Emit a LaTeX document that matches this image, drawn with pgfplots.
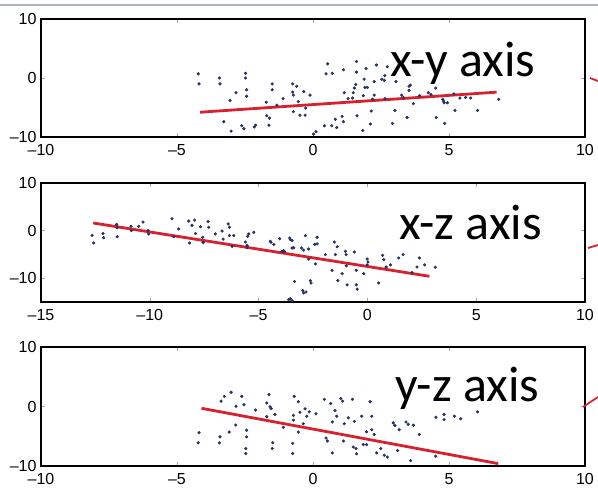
\documentclass[border=0pt]{standalone}
\usepackage{fontspec}
\setmainfont{Liberation Sans}
\newfontfamily\calibri{Carlito}
\usepackage{pgfplots}
\pgfplotsset{compat=1.18}
\usepackage{pgfplotstable}
\definecolor{dotblue}{HTML}{25345F}
\definecolor{fitred}{HTML}{D8202E}
\definecolor{topgray}{HTML}{A9B2BE}

\pgfplotstableread{
x y
-4.22 0.7
-4.19 -1.0
-3.44 0.0
-3.42 -1.0
-2.48 0.8
-2.48 0.0
-2.44 -2.0
-2.44 -3.1
-2.83 -2.5
-3.05 -3.8
-3.28 -7.4
-3.01 -9.0
-2.62 -8.1
-2.54 -8.6
-2.16 -8.3
-2.11 -8.0
-1.50 -1.0
-1.50 -2.0
-1.72 -4.1
-1.70 -6.4
-1.60 -6.8
-1.62 -8.0
-1.33 -4.6
-1.10 -3.5
-0.75 -1.0
-0.60 -1.4
-0.75 -2.4
-0.72 -2.9
-0.54 -4.0
-0.72 -5.7
-0.48 -6.3
-0.29 -6.3
-0.27 -5.1
-0.34 -2.3
-0.11 -2.9
0.11 -9.1
0.02 -9.5
0.54 2.4
0.48 0.7
0.71 0.8
1.12 1.4
1.15 -2.5
1.29 -3.5
0.42 -8.1
0.69 -8.1
0.87 -8.4
0.82 -7.0
1.07 -6.5
1.12 -7.4
1.60 2.8
1.60 1.0
1.95 1.6
2.33 2.2
2.73 1.9
1.88 -0.2
1.57 -1.1
1.52 -1.7
1.91 -1.6
2.00 -1.6
2.25 -0.6
2.53 -0.2
2.62 -0.4
2.64 0.4
3.05 -0.6
3.53 -1.4
3.58 -1.2
3.53 -2.1
1.48 -2.5
1.45 -3.4
1.85 -3.0
2.25 -2.9
2.19 -3.6
2.65 -3.5
3.26 -2.9
3.32 -3.3
3.92 -3.0
4.24 -2.5
4.34 -2.8
4.51 -1.7
3.69 -4.35
4.77 -3.6
4.82 -4.2
4.94 -4.2
4.80 -3.9
5.18 -2.7
5.40 -3.4
5.61 -3.3
5.80 -3.4
6.83 -3.6
1.62 -6.4
2.14 -5.6
3.01 -5.5
3.46 -6.7
2.11 -7.8
2.92 -7.7
1.83 -8.9
4.53 -6.7
4.84 -7.7
5.22 -5.5
6.05 -5.5
}\dataxy

\pgfplotstableread{
x y
-12.65 -1.0
-12.58 -2.6
-12.15 -0.6
-12.12 -1.5
-11.52 1.3
-11.50 0.6
-11.50 -1.3
-10.86 0.9
-10.85 0.0
-10.51 0.9
-10.31 1.8
-10.08 0.0
-10.05 -0.7
-8.98 2.5
-8.67 0.35
-8.90 -1.3
-8.21 2.0
-7.94 2.2
-8.06 1.1
-7.67 0.8
-7.32 1.9
-7.29 0.7
-7.90 -0.6
-7.57 -1.4
-8.17 -2.6
-7.55 -2.5
-6.99 -0.7
-6.68 -0.1
-6.63 -1.8
-6.40 1.4
-6.34 0.7
-6.34 -1.05
-6.14 -1.05
-6.22 -3.3
-5.61 -2.4
-5.50 -1.2
-5.45 -0.7
-5.22 -0.35
-5.53 -3.6
-5.53 -3.1
-4.46 -2.25
-4.43 -2.45
-4.30 -2.9
-4.03 -1.7
-3.57 -1.55
-3.46 -2.1
-3.92 -4.4
-3.81 -4.4
-3.46 -3.65
-3.86 -4.2
-3.54 -1.9
-3.39 -3.6
-2.85 -1.05
-2.31 -1.4
-3.03 -3.65
-2.93 -4.1
-2.70 -3.86
-2.42 -2.9
-2.31 -2.8
-2.70 -6.0
-2.39 -7.0
-1.93 -5.05
-1.52 -2.4
-1.39 -3.4
-1.47 -5.05
-1.01 -4.35
-0.98 -5.05
-0.60 -4.5
-0.97 -7.4
-1.62 -8.35
-1.16 -9.05
-1.36 -10.5
-0.93 -11.4
-0.51 -8.35
-0.51 -11.4
-0.47 -12.3
-0.17 -9.05
-0.01 -5.97
0.03 -6.6
-0.01 -7.2
0.52 -11.0
0.70 -5.2
0.75 -6.1
0.86 -7.65
1.06 -7.2
1.44 -5.75
1.64 -5.05
2.05 -8.8
2.28 -7.65
2.39 -5.75
2.63 -7.2
3.12 -7.7
-3.35 -10.7
-2.97 -12.6
-2.82 -12.9
-2.93 -13.1
-2.62 -10.5
-2.59 -11.0
-3.62 -14.5
-3.46 -14.7
-3.54 -14.3
}\dataxz

\pgfplotstableread{
x y
-4.22 -6.1
-4.19 -4.4
-3.44 -6.1
-3.42 -5.1
-3.38 0.9
-3.26 1.7
-3.01 2.4
-2.62 1.7
-2.83 0.05
-2.54 0.3
-3.08 -4.3
-2.84 -3.1
-2.44 -4.0
-2.44 -5.1
-2.47 -7.06
-2.47 -7.9
-2.11 -0.6
-1.62 2.0
-1.70 0.6
-1.58 -0.05
-1.54 -0.34
-1.70 -1.7
-1.40 -1.34
-1.48 -6.1
-1.50 -7.06
-1.09 -3.5
-0.69 1.7
-0.54 0.8
-0.72 -1.5
-0.72 -2.3
-0.48 -0.96
-0.29 -0.39
-0.23 -1.63
-0.14 -0.9
0.11 -1.23
-0.36 -2.9
-0.54 -4.3
-0.75 -6.2
-0.75 -7.9
0.42 1.2
0.65 0.5
1.02 1.35
1.09 0.9
1.45 1.2
0.81 -0.67
0.87 -1.63
1.30 -1.9
0.71 -2.6
1.15 -2.9
1.52 -2.5
0.48 -5.3
0.53 -5.8
1.12 -5.8
1.48 -6.8
1.58 -7.06
1.60 -7.95
0.71 -7.8
1.85 -6.4
1.79 -1.63
2.10 0.8
2.16 -1.63
2.16 -3.9
2.25 -4.7
1.97 -4.25
1.97 -6.4
2.49 -7.06
2.34 -7.8
2.62 -8.2
2.73 -8.5
2.95 -2.75
3.01 -3.2
3.17 -3.9
3.42 -2.6
3.50 -3.0
3.69 -3.15
3.91 -4.7
3.11 -7.4
3.59 -9.1
4.51 -8.35
4.52 -1.8
4.82 -1.34
4.82 -2.2
5.20 -1.63
5.43 -2.07
6.05 -0.9
}\datayz

\newcommand\tl[1]{\mbox{\fontsize{16}{16}\selectfont #1}}

\pgfplotsset{
  panel/.style={
    scale only axis, width=544pt,
    axis line style={line width=2.4pt, black},
    tick align=inside, major tick length=4pt,
    tick style={gray!70, line width=0.6pt},
    xticklabel style={yshift=-4pt},
    yticklabel style={xshift=-1pt},
    clip=false,
  },
  dots/.style={only marks, mark=*, mark size=1.4pt, color=dotblue},
  fit/.style={fitred, line width=2.8pt, no marks},
}

\begin{document}
\begin{tikzpicture}[x=1pt,y=1pt]
\useasboundingbox (0,0) rectangle (598,490);
\draw[topgray, line width=2pt] (0,485) -- (598,485);

\begin{axis}[panel, at={(41pt,353pt)}, anchor=south west, height=118pt,
  xmin=-10, xmax=10, ymin=-10, ymax=10,
  xtick={-10,-5,0,5,10}, xticklabels={\tl{\textendash10},\tl{\textendash5},\tl{0},\tl{5},\tl{10}},
  ytick={-10,0,10}, yticklabels={\tl{\textendash10},\tl{0},\tl{10}}]
\addplot[dots] table[x=x,y=y] {\dataxy};
\addplot[fit] coordinates {(-4.15,-5.8) (6.75,-2.4)};
\end{axis}

\begin{axis}[panel, at={(41pt,188pt)}, anchor=south west, height=119pt,
  xmin=-15, xmax=10, ymin=-15, ymax=10,
  xtick={-15,-10,-5,0,5,10}, xticklabels={\tl{\textendash15},\tl{\textendash10},\tl{\textendash5},\tl{0},\tl{5},\tl{10}},
  ytick={-10,0,10}, yticklabels={\tl{\textendash10},\tl{0},\tl{10}}]
\addplot[dots] table[x=x,y=y] {\dataxz};
\addplot[fit] coordinates {(-12.6,1.6) (2.85,-9.6)};
\end{axis}

\begin{axis}[panel, at={(41pt,24pt)}, anchor=south west, height=119pt,
  xmin=-10, xmax=10, ymin=-10, ymax=10,
  xtick={-10,-5,0,5,10}, xticklabels={\tl{\textendash10},\tl{\textendash5},\tl{0},\tl{5},\tl{10}},
  ytick={-10,0,10}, yticklabels={\tl{\textendash10},\tl{0},\tl{10}}]
\addplot[dots] table[x=x,y=y] {\datayz};
\addplot[fit] coordinates {(-4.1,-0.3) (6.81,-9.6)};
\end{axis}

\node[anchor=base west, inner sep=0pt, font=\calibri\fontsize{50}{50}\selectfont] at (390,413) {x-y axis};
\node[anchor=base west, inner sep=0pt, font=\calibri\fontsize{50}{50}\selectfont] at (399,250) {x-z axis};
\node[anchor=base west, inner sep=0pt, font=\calibri\fontsize{50}{50}\selectfont] at (395,88) {y-z axis};

\draw[fitred, line width=1.8pt] (590,412) -- (598,409);
\draw[fitred, line width=1.8pt] (588,242) -- (598,245);
\draw[fitred, line width=1.8pt] (583,83) -- (598,93);
\end{tikzpicture}
\end{document}
